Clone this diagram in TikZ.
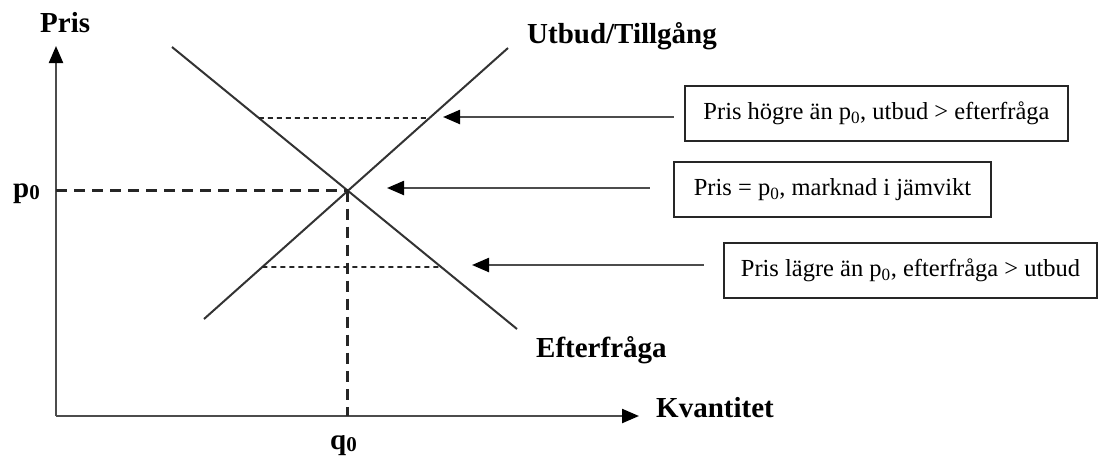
\documentclass[tikz,border=0pt]{standalone}
\usepackage{fontspec}
\setmainfont{Liberation Serif}
\usetikzlibrary{arrows.meta}
\newcommand{\lblsub}{\raisebox{-2pt}{\fontsize{21}{21}\selectfont 0}}
\begin{document}
\begin{tikzpicture}[x=1pt,y=-1pt,
  lbl/.style={font=\bfseries\fontsize{29}{32}\selectfont, anchor=base west, inner sep=0pt},
  infobox/.style={draw=black!85, line width=2pt, minimum height=55pt, inner sep=0pt,
    font=\fontsize{24.5}{28}\selectfont},
  tip/.style={Triangle[length=17pt,width=14pt,color=black]},
  axis/.style={line width=2.3pt, draw=black!70, -{Triangle[length=17pt,width=14pt,color=black]}},
  curve/.style={line width=2pt, draw=black!80},
  bigdash/.style={line width=3pt, draw=black!85, dash pattern=on 11pt off 7pt},
  smalldash/.style={line width=1.7pt, draw=black!85, dash pattern=on 5pt off 4pt},
  pointer/.style={line width=2.3pt, draw=black!70, {Triangle[length=17pt,width=14pt,color=black]}-}
]
\useasboundingbox (0,0) rectangle (1101,459);

% axes
\coordinate (O) at (56,416);
\coordinate (Ytop) at (56,46);
\coordinate (Xend) at (639,416);
\draw[axis] (O) -- (Ytop);
\draw[axis] (O) -- (Xend);

% curves
\coordinate (D1) at (172,47);
\coordinate (D2) at (517,329);
\coordinate (S1) at (204,319);
\coordinate (S2) at (508,48);
\draw[curve] (D1) -- (D2);
\draw[curve] (S1) -- (S2);

\coordinate (E) at (intersection of D1--D2 and S1--S2);
\coordinate (P0) at (O |- E);
\coordinate (Q0) at (O -| E);
\draw[bigdash] (P0) -- (E);
\draw[bigdash] (E) -- (Q0);

% high and low price lines
\coordinate (Hd) at (intersection of D1--D2 and 0,118--1000,118);
\coordinate (Hs) at (intersection of S1--S2 and 0,118--1000,118);
\coordinate (Ls) at (intersection of S1--S2 and 0,267--1000,267);
\coordinate (Ld) at (intersection of D1--D2 and 0,267--1000,267);
\draw[smalldash] (Hd) -- (Hs);
\draw[smalldash] (Ls) -- (Ld);

% labels
\node[lbl] (pris) at (40,32) {Pris};
\node[lbl] (utbud) at (527,43) {Utbud/Tillgång};
\node[lbl] (efter) at (536,357) {Efterfråga};
\node[lbl] (kvant) at (656,417) {Kvantitet};
\node[lbl] (p0) at (13,197) {p\lblsub};
\node[lbl] (q0) at (330,449) {q\lblsub};

% boxes
\node[infobox, minimum width=383pt] (b1) at (876.5,113.5) {Pris högre än p\textsubscript{0}, utbud > efterfråga};
\node[infobox, minimum width=317pt] (b2) at (832.5,189.5) {Pris = p\textsubscript{0}, marknad i jämvikt};
\node[infobox, minimum width=373pt] (b3) at (910.5,270.5) {Pris lägre än p\textsubscript{0}, efterfråga > utbud};

% pointers
\coordinate (t1) at (443,117);
\coordinate (t2) at (387,188);
\coordinate (t3) at (472,265);
\draw[pointer] (t1) -- ([xshift=-10pt]t1 -| b1.west);
\draw[pointer] (t2) -- ([xshift=-23pt]t2 -| b2.west);
\draw[pointer] (t3) -- ([xshift=-19pt]t3 -| b3.west);
\end{tikzpicture}
\end{document}
